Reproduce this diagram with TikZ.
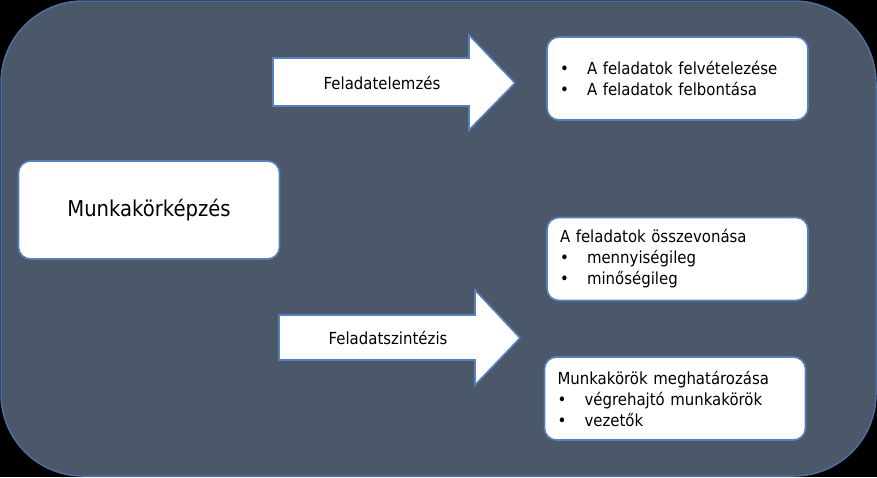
\documentclass[tikz,border=0pt]{standalone}
\usepackage{fontspec}
\setmainfont{DejaVu Sans}[FakeStretch=0.9]
\usepackage{xcolor}
\usetikzlibrary{positioning}
\definecolor{slatefill}{RGB}{74,88,106}
\definecolor{slateline}{RGB}{79,110,160}
\definecolor{boxline}{RGB}{88,128,186}
\newcommand{\itembul}{\makebox[27pt][l]{\textbullet}}
\tikzset{
  frame/.style={draw=slateline, fill=slatefill, line width=1.5pt, rounded corners=82pt},
  topic/.style={rectangle, draw=boxline, fill=white, line width=1.6pt, rounded corners=12pt,
    minimum width=261pt, minimum height=98pt, font=\fontsize{21.8}{26}\selectfont},
  item/.style={rectangle, draw=boxline, fill=white, line width=1.6pt, rounded corners=12pt,
    minimum width=261pt, minimum height=83pt, inner xsep=13pt, text width=235pt,
    align=left, font=\fontsize{16.6}{21}\selectfont},
  bigarrow/.style={draw=boxline, fill=white, line width=1.6pt},
  arrowlbl/.style={font=\fontsize{16.6}{20}\selectfont}
}
\begin{document}
\begin{tikzpicture}[x=1pt, y=-1pt]
  \fill[black] (0,0) rectangle (877,477);
  \useasboundingbox (0,0) rectangle (877,477);
  \draw[frame] (1,1) rectangle (876,476);
  \node[topic] (mk) at (149,210) {Munkakörképzés};
  % block arrows
  \draw[bigarrow] (273,58) -- (469,58) -- (469,35) -- (515,83) -- (469,130) -- (469,106) -- (273,106) -- cycle;
  \draw[bigarrow] (279,315) -- (475,315) -- (475,290) -- (520,338) -- (475,385) -- (475,360) -- (279,360) -- cycle;
  \node[arrowlbl] (elemzes) at (382,83) {Feladatelemzés};
  \node[arrowlbl] (szintezis) at (388,338) {Feladatszintézis};
  \node[item] (felv) at (677.5,78.5) {\itembul A feladatok felvételezése\\ \itembul A feladatok felbontása};
  \node[item] (ossz) at (677.5,259) {A feladatok összevonása\\ \itembul mennyiségileg\\ \itembul minőségileg};
  \node[item] (mkor) at (675,398.5) {Munkakörök meghatározása\\ \itembul végrehajtó munkakörök\\ \itembul vezetők};
\end{tikzpicture}
\end{document}
